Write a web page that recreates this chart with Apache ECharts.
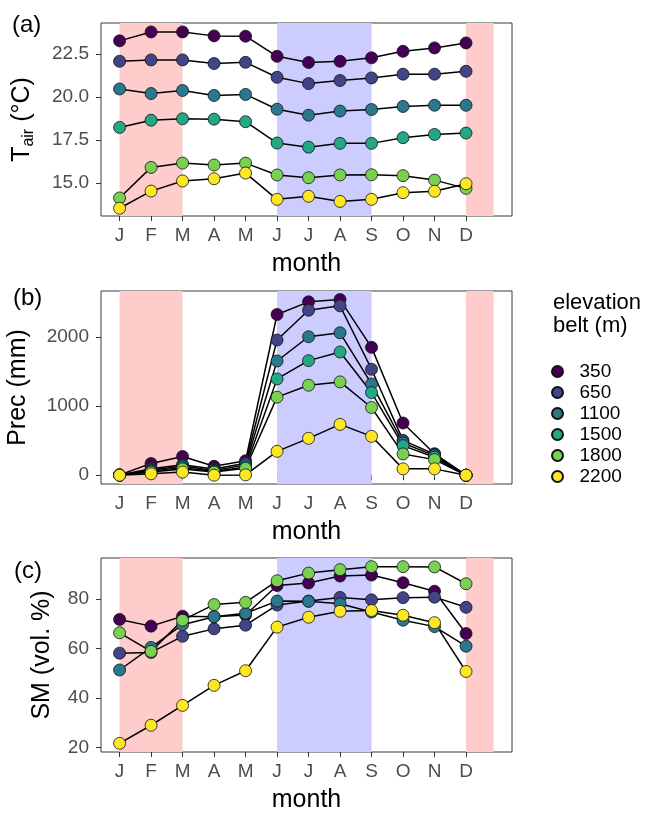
<!DOCTYPE html>
<html>
<head>
<meta charset="utf-8">
<script src="https://cdn.jsdelivr.net/npm/echarts@6/dist/echarts.min.js"></script>
<style>html,body{margin:0;padding:0;background:#fff}#c{width:649px;height:813px}</style>
</head>
<body>
<div id="c"></div>
<script>
const months = [1,2,3,4,5,6,7,8,9,10,11,12];
const monthLabels = ['J','F','M','A','M','J','J','A','S','O','N','D'];
const elevations = ['350','650','1100','1500','1800','2200'];
const colors = ['#440154','#414487','#2A788E','#22A884','#7AD151','#FDE725'];

const tair350  = [23.28,23.80,23.80,23.57,23.55,22.38,22.02,22.09,22.29,22.67,22.87,23.16];
const tair650  = [22.09,22.17,22.17,21.96,22.03,21.16,20.79,20.97,21.12,21.34,21.34,21.51];
const tair1100 = [20.48,20.21,20.39,20.10,20.16,19.30,18.95,19.19,19.28,19.46,19.53,19.53];
const tair1500 = [18.24,18.66,18.74,18.72,18.57,17.33,17.09,17.31,17.31,17.64,17.83,17.91];
const tair1800 = [14.13,15.91,16.16,16.05,16.16,15.47,15.31,15.47,15.48,15.43,15.17,14.69];
const tair2200 = [13.53,14.53,15.12,15.25,15.58,14.05,14.23,13.93,14.05,14.44,14.52,14.96];

const prec350  = [5,170,272,130,210,2327,2510,2543,1851,756,310,0];
const prec650  = [3,95,150,90,175,1957,2389,2452,1534,505,305,0];
const prec1100 = [3,75,135,70,150,1654,2005,2062,1322,467,284,0];
const prec1500 = [2,60,110,55,120,1394,1659,1784,1197,428,260,0];
const prec1800 = [2,45,90,45,100,1130,1303,1351,981,308,226,0];
const prec2200 = [0,20,45,0,5,346,534,736,563,92,92,0];

const sm350  = [71.7,69.0,73.0,72.8,73.5,85.4,86.4,89.2,89.6,86.5,83.1,66.0];
const sm650  = [58.1,58.4,64.9,67.9,69.4,77.5,79.1,80.6,79.6,80.5,80.7,76.6];
const sm1100 = [51.3,60.4,69.6,72.8,74.2,79.1,79.0,78.0,74.7,71.4,68.8,60.9];
const sm1500 = [null,null,null,null,null,null,null,null,null,null,null,null];
const sm1800 = [66.3,58.8,71.4,77.7,78.6,87.3,90.4,91.8,93.0,93.0,92.9,86.1];
const sm2200 = [21.7,29.0,37.0,45.1,51.0,68.6,72.6,75.0,75.3,73.4,70.4,50.7];

const tairTicks = [15, 17.5, 20, 22.5];
const precTicks = [0, 1000, 2000];
const smTicks = [20, 40, 60, 80];

const dryPeriods = [[1,3],[12,12.875]];
const wetPeriod = [6,9];

const panels = [
  {data:[tair350,tair650,tair1100,tair1500,tair1800,tair2200], ticks:tairTicks, min:13.08, max:24.32, top:23, height:193,
   name:'{t|T}{s|air}{t| (°C)}', gap:64, fmt:v=>v.toFixed(1)},
  {data:[prec350,prec650,prec1100,prec1500,prec1800,prec2200], ticks:precTicks, min:-127, max:2667, top:291, height:193,
   name:'{t|Prec (mm)}', gap:68, fmt:v=>String(v)},
  {data:[sm350,sm650,sm1100,sm1500,sm1800,sm2200], ticks:smTicks, min:18.2, max:96.5, top:558, height:194,
   name:'{t|SM (vol. %)}', gap:44, fmt:v=>String(v)}
];

const FONT = '"Liberation Sans", Arial, sans-serif';
const grids = [], xAxes = [], yAxes = [], lineSeries = [], pointSeries = [];

panels.forEach((p, gi) => {
  grids.push({left:101, width:411, top:p.top, height:p.height, show:true, borderColor:'#3a3a3a', borderWidth:1,
    backgroundColor:'transparent', containLabel:false, outerBoundsMode:'none'});
  xAxes.push({
    type:'value', gridIndex:gi, min:0.41, max:13.46,
    name:'month', nameLocation:'middle', nameGap:36,
    nameTextStyle:{fontFamily:FONT, fontSize:25, color:'#000'},
    axisLine:{show:false},
    axisTick:{show:true, length:5, lineStyle:{color:'#333', width:1}, customValues:months},
    axisLabel:{fontFamily:FONT, fontSize:19, color:'#4d4d4d', margin:10, customValues:months,
      formatter:v=>monthLabels[Math.round(v)-1]},
    splitLine:{show:false}
  });
  yAxes.push({
    type:'value', gridIndex:gi, min:p.min, max:p.max,
    name:p.name, nameLocation:'middle', nameGap:p.gap, nameRotate:90,
    nameTextStyle:{fontFamily:FONT, color:'#000',
      rich:{t:{fontFamily:FONT, fontSize:25, color:'#000', lineHeight:30, verticalAlign:'middle'},
            s:{fontFamily:FONT, fontSize:16, color:'#000', lineHeight:10, verticalAlign:'bottom'}}},
    axisLine:{show:false},
    axisTick:{show:true, length:5, lineStyle:{color:'#333', width:1}, customValues:p.ticks},
    axisLabel:{fontFamily:FONT, fontSize:19, color:'#4d4d4d', margin:12, customValues:p.ticks, formatter:p.fmt},
    splitLine:{show:false}
  });
  lineSeries.push({
    type:'line', xAxisIndex:gi, yAxisIndex:gi, data:[], silent:true, z:1,
    markArea:{silent:true, z:1, label:{show:false},
      data:[
        [{xAxis:dryPeriods[0][0], itemStyle:{color:'#FFCCCC'}},{xAxis:dryPeriods[0][1]}],
        [{xAxis:wetPeriod[0], itemStyle:{color:'#CCCCFF'}},{xAxis:wetPeriod[1]}],
        [{xAxis:dryPeriods[1][0], itemStyle:{color:'#FFCCCC'}},{xAxis:dryPeriods[1][1]}]
      ]}
  });
  p.data.forEach((arr, si) => {
    const pts = months.map((m,i)=>[m, arr[i]]);
    lineSeries.push({
      type:'line', xAxisIndex:gi, yAxisIndex:gi, data:pts, showSymbol:false, silent:true, z:2,
      lineStyle:{color:'#000', width:1.5}, connectNulls:false
    });
    pointSeries.push({
      type:'scatter', name:elevations[si], xAxisIndex:gi, yAxisIndex:gi, data:pts, symbol:'circle', symbolSize:12, z:3,
      itemStyle:{color:colors[si], borderColor:'#111', borderWidth:0.8, opacity:1}
    });
  });
});

const chart = echarts.init(document.getElementById('c'), null, {renderer:'canvas'});
chart.setOption({
  animation:false,
  backgroundColor:'#fff',
  grid:grids, xAxis:xAxes, yAxis:yAxes,
  series:lineSeries.concat(pointSeries),
  legend:{
    data:elevations, orient:'vertical', left:546, top:356, itemGap:0,
    itemWidth:34, itemHeight:11, icon:'circle', selectedMode:false,
    textStyle:{fontFamily:FONT, fontSize:19, color:'#000', lineHeight:21}
  },
  graphic:[
    {type:'text', left:12, top:13, style:{text:'(a)', font:'24px '+FONT, fill:'#000'}},
    {type:'text', left:13, top:286, style:{text:'(b)', font:'24px '+FONT, fill:'#000'}},
    {type:'text', left:14, top:559, style:{text:'(c)', font:'24px '+FONT, fill:'#000'}},
    {type:'text', left:553, top:291, style:{text:'elevation\nbelt (m)', font:'22px '+FONT, fill:'#000', lineHeight:23}}
  ]
});
</script>
</body>
</html>
